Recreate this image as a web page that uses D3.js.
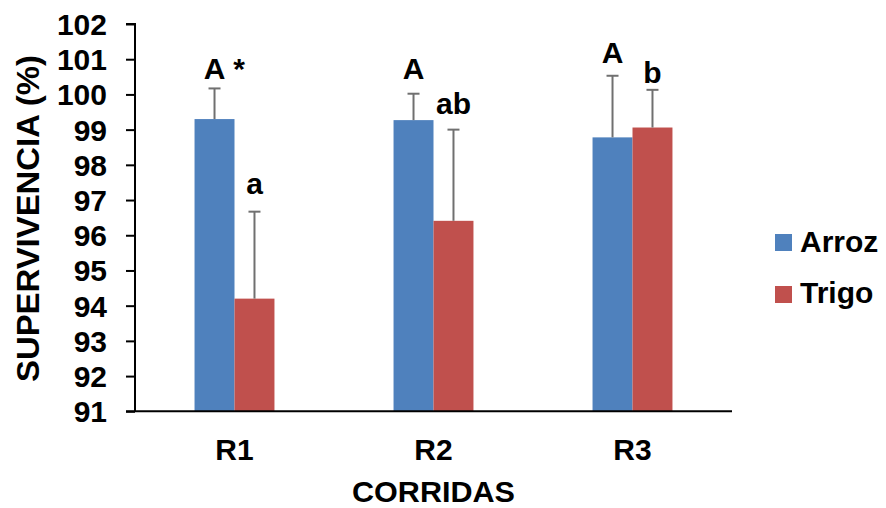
<!DOCTYPE html>
<html>
<head>
<meta charset="utf-8">
<script src="https://cdn.jsdelivr.net/npm/d3@7"></script>
<style>
  html, body { margin: 0; padding: 0; background: #fff; }
  svg { display: block; }
  text { font-family: "Liberation Sans", Arial, sans-serif; font-weight: bold; fill: #000; }
</style>
</head>
<body>
<svg id="chart" width="886" height="508"></svg>
<script>
// Survival (%) per run, with standard deviation and significance letters
const categories = ["R1", "R2", "R3"];
const seriesNames = ["Arroz", "Trigo"];
const arrozValues = [99.30, 99.27, 98.78];
const trigoValues = [94.20, 96.41, 99.06];
const arrozErrors = [0.87, 0.75, 1.75];
const trigoErrors = [2.47, 2.59, 1.07];
const arrozLetters = ["A", "A", "A"];
const trigoLetters = ["a", "ab", "b"];
const arrozMarks = ["*", "", ""];
const yTicks = [91, 92, 93, 94, 95, 96, 97, 98, 99, 100, 101, 102];

const colors = { Arroz: "#4F81BD", Trigo: "#C0504D" };
// vertical gap (px) between each error-bar cap and its letter
const letterGap = { Arroz: [9, 15, 13], Trigo: [18, 16, 7] };

const svg = d3.select("#chart");
const plot = { left: 135, right: 732, top: 24, bottom: 411.3 };

const x0 = d3.scaleBand().domain(categories).range([plot.left, plot.right]);
const x1 = d3.scaleBand().domain(seriesNames).range([0, x0.bandwidth()]).paddingOuter(1.49);
const y = d3.scaleLinear().domain([91, 102]).range([plot.bottom, plot.top]);

const rows = [];
categories.forEach((c, i) => {
  rows.push({ cat: c, s: "Arroz", i, v: arrozValues[i], e: arrozErrors[i], letter: arrozLetters[i], mark: arrozMarks[i] });
  rows.push({ cat: c, s: "Trigo", i, v: trigoValues[i], e: trigoErrors[i], letter: trigoLetters[i], mark: "" });
});

// bars
svg.append("g").selectAll("rect").data(rows).join("rect")
  .attr("x", d => x0(d.cat) + x1(d.s))
  .attr("width", x1.bandwidth())
  .attr("y", d => y(d.v))
  .attr("height", d => y(91) - y(d.v))
  .attr("fill", d => colors[d.s]);

// upper error bars
const eb = svg.append("g").attr("stroke", "#707070").attr("stroke-width", 2);
rows.forEach(d => {
  const cx = x0(d.cat) + x1(d.s) + x1.bandwidth() / 2;
  eb.append("line").attr("x1", cx).attr("x2", cx).attr("y1", y(d.v)).attr("y2", y(d.v + d.e));
  eb.append("line").attr("x1", cx - 6).attr("x2", cx + 6).attr("y1", y(d.v + d.e)).attr("y2", y(d.v + d.e));
});

// significance letters
rows.forEach(d => {
  const cx = x0(d.cat) + x1(d.s) + x1.bandwidth() / 2;
  const by = y(d.v + d.e) - letterGap[d.s][d.i];
  const t = svg.append("text").attr("x", cx).attr("y", by)
    .attr("text-anchor", "middle").attr("font-size", 30).text(d.letter);
  if (d.mark) {
    const w = t.node().getComputedTextLength();
    svg.append("text").attr("x", cx + w / 2 + 8).attr("y", by)
      .attr("font-size", 30).text(d.mark);
  }
});

// y axis
const yAxis = svg.append("g").attr("transform", `translate(${plot.left},0)`)
  .call(d3.axisLeft(y).tickValues(yTicks).tickSize(9).tickPadding(19).tickFormat(d3.format("d")));
yAxis.select(".domain").attr("stroke", "#000").attr("stroke-width", 2).attr("d", `M-9,${y(102)}H0V${y(91)}`);
yAxis.selectAll(".tick line").attr("stroke", "#000").attr("stroke-width", 2);
yAxis.selectAll(".tick text").attr("font-size", 30).attr("font-family", null).attr("dy", "0.35em");

// x axis
const xAxis = svg.append("g").attr("transform", `translate(0,${plot.bottom})`)
  .call(d3.axisBottom(x0).tickSize(0).tickPadding(27));
xAxis.select(".domain").attr("stroke", "#000").attr("stroke-width", 2).attr("d", `M${plot.left - 9},0H${plot.right}`);
xAxis.selectAll(".tick text").attr("font-size", 30).attr("font-family", null);

// axis titles
svg.append("text").attr("transform", "translate(38.5,218.5) rotate(-90)")
  .attr("text-anchor", "middle").attr("font-size", 31)
  .attr("textLength", 327).attr("lengthAdjust", "spacingAndGlyphs")
  .text("SUPERVIVENCIA (%)");
svg.append("text").attr("x", (plot.left + plot.right) / 2).attr("y", 502)
  .attr("text-anchor", "middle").attr("font-size", 30)
  .attr("textLength", 163).attr("lengthAdjust", "spacingAndGlyphs")
  .text("CORRIDAS");

// legend
const lg = svg.append("g");
seriesNames.forEach((s, i) => {
  lg.append("rect").attr("x", 775).attr("y", 234 + i * 52).attr("width", 17).attr("height", 17).attr("fill", colors[s]);
  lg.append("text").attr("x", 800).attr("y", 252 + i * 51).attr("font-size", 30).text(s);
});
</script>
</body>
</html>
